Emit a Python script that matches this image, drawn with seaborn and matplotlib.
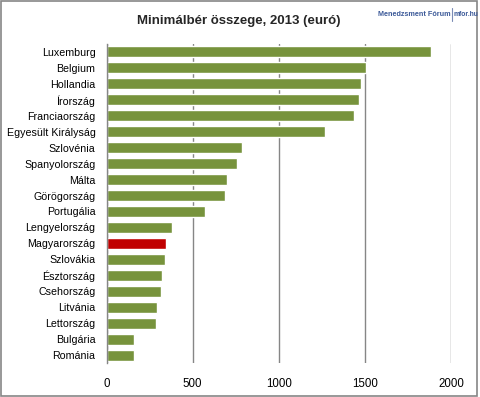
import matplotlib
matplotlib.use("Agg")
import matplotlib.pyplot as plt
from matplotlib.patches import Rectangle
import seaborn as sns
import pandas as pd

countries = ["Luxemburg", "Belgium", "Hollandia", "Írország", "Franciaország",
             "Egyesült Királyság", "Szlovénia", "Spanyolország", "Málta",
             "Görögország", "Portugália", "Lengyelország", "Magyarország",
             "Szlovákia", "Észtország", "Csehország", "Litvánia", "Lettország",
             "Bulgária", "Románia"]
wages = [1880, 1505, 1475, 1465, 1435, 1268, 786, 757, 700, 688, 570, 380,
         345, 340, 322, 316, 293, 288, 159, 159]
highlight = "Magyarország"

GREEN = "#77933c"
RED = "#c00000"
GRID = "#868686"

sns.set_theme(style="white")
plt.rcParams['font.family'] = ['Liberation Sans', 'DejaVu Sans']

df = pd.DataFrame({"orszag": countries, "euro": wages})
colors = [RED if c == highlight else GREEN for c in countries]

fig = plt.figure(figsize=(4.81, 3.97), dpi=100)
ax = fig.add_axes([106.5 / 481, 1 - 363 / 397, (451.3 - 106.5) / 481, (363 - 44) / 397])

sns.barplot(data=df, x="euro", y="orszag", hue="orszag", palette=colors,
            legend=False, width=0.69, saturation=1, ax=ax)

ax.set_xlim(0, 2000)
ax.set_xticks([0, 500, 1000, 1500, 2000])
ax.set_xlabel("")
ax.set_ylabel("")
ax.xaxis.grid(True, color=GRID, linewidth=1, linestyle="-")
ax.set_axisbelow(True)
for s in ["top", "right", "bottom"]:
    ax.spines[s].set_visible(False)
ax.spines["left"].set_color(GRID)
ax.spines["left"].set_linewidth(1)
ax.tick_params(axis="both", length=0, colors="black")
ax.tick_params(axis="y", pad=8, labelsize=7.7)
ax.tick_params(axis="x", pad=11, labelsize=8.3)

fig.text(239 / 481, 1 - 21 / 397, "Minimálbér összege, 2013 (euró)",
         ha="center", va="center", fontsize=9.5, fontweight="bold")

# logo
fig.text(451 / 481, 1 - 14 / 397, "Menedzsment Fórum", ha="right", va="center",
         fontsize=5.2, fontweight="bold", color="#3b5998")
fig.text(453.5 / 481, 1 - 14 / 397, "mfor.hu", ha="left", va="center",
         fontsize=4.9, fontweight="bold", color="#3b5998")
fig.add_artist(plt.Line2D([452.5 / 481, 452.5 / 481], [1 - 8 / 397, 1 - 21 / 397],
                          color="#7a8bb5", linewidth=0.8))

fig.add_artist(Rectangle((1 / 481, 1 / 397), 476 / 481, 395 / 397,
                         fill=False, edgecolor=GRID, linewidth=1.2,
                         transform=fig.transFigure))

fig.savefig("out.png", dpi=100)
